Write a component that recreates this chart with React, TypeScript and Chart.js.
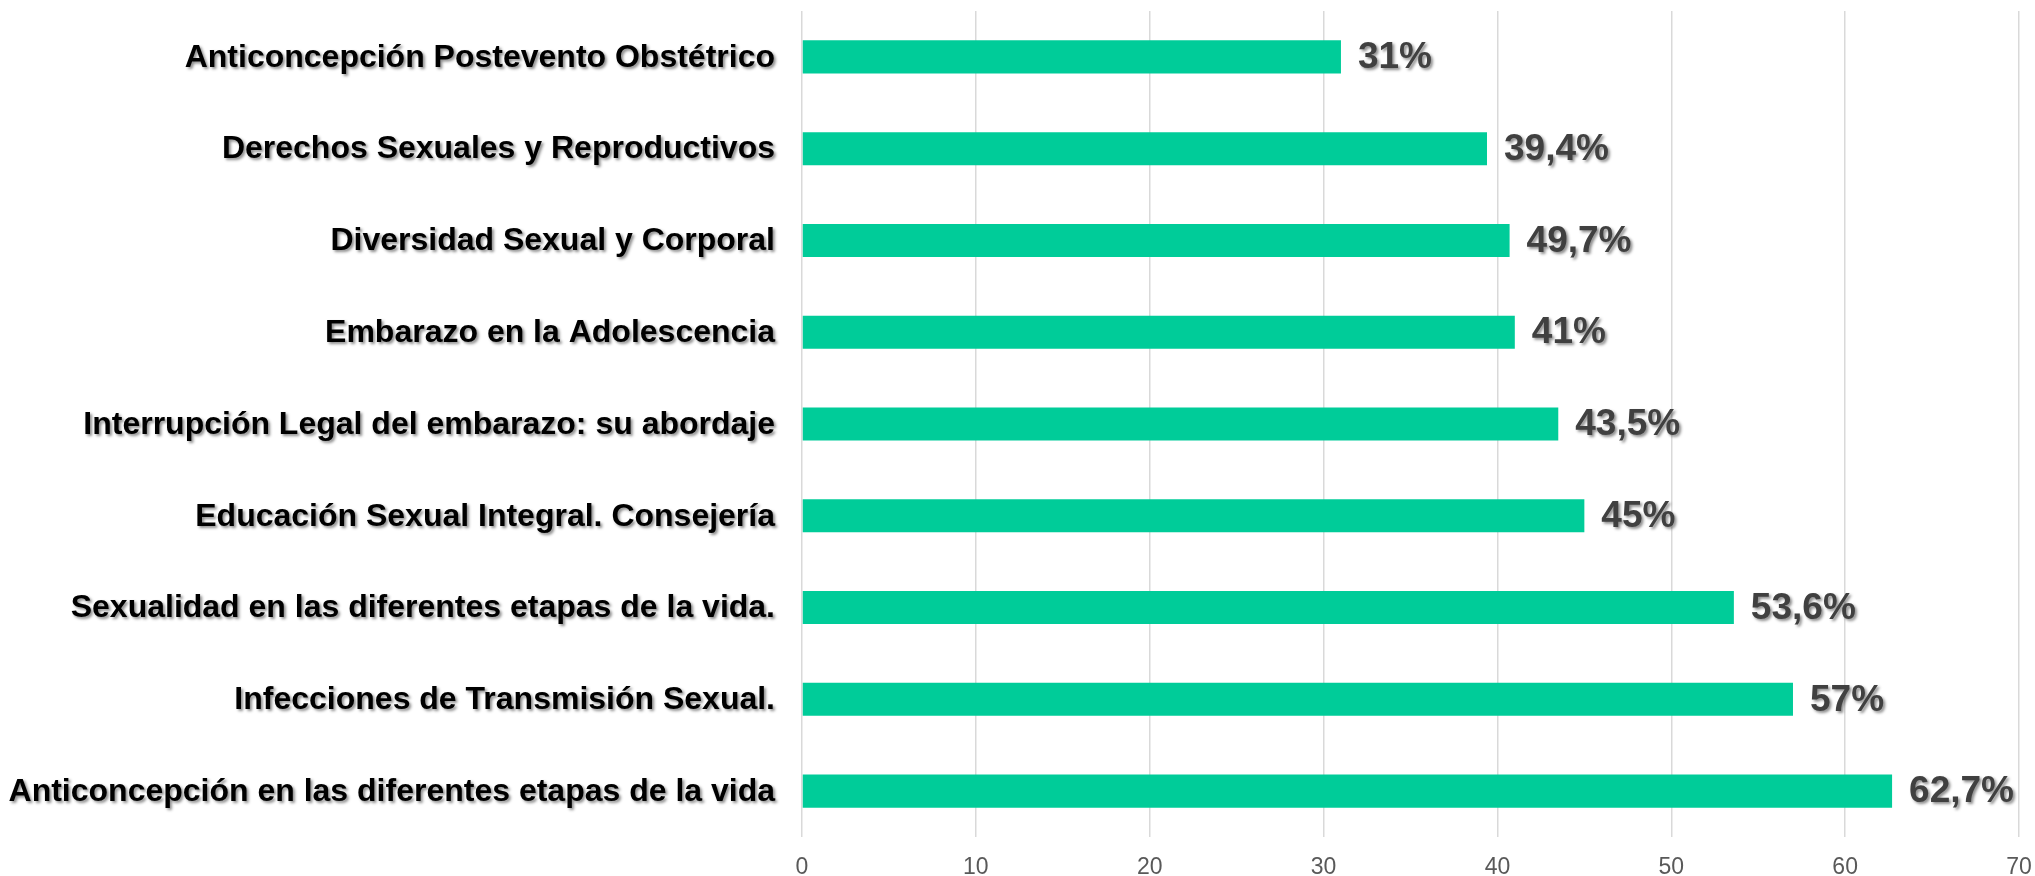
import { useEffect, useRef } from 'react';
import { Chart, registerables } from 'chart.js';

Chart.register(...registerables);

const categories = [
  'Anticoncepción Postevento Obstétrico',
  'Derechos Sexuales y Reproductivos',
  'Diversidad Sexual y Corporal',
  'Embarazo en la Adolescencia',
  'Interrupción Legal del embarazo: su abordaje',
  'Educación Sexual Integral. Consejería',
  'Sexualidad en las diferentes etapas de la vida.',
  'Infecciones de Transmisión Sexual.',
  'Anticoncepción en las diferentes etapas de la vida',
];

// bar lengths as drawn in the picture
const values = [31, 39.4, 40.7, 41, 43.5, 45, 53.6, 57, 62.7];

// label texts as printed in the picture
const valueLabels = ['31%', '39,4%', '49,7%', '41%', '43,5%', '45%', '53,6%', '57%', '62,7%'];

const xMin = 0;
const xMax = 70;
const xStep = 10;

const FONT = '"Liberation Sans", Arial, Helvetica, sans-serif';

const labelPlugin = {
  id: 'shadowLabels',
  afterDatasetsDraw(chart: any) {
    const ctx = chart.ctx;
    const yScale = chart.scales.y;
    const meta = chart.getDatasetMeta(0);
    ctx.save();
    ctx.shadowColor = 'rgba(0,0,0,0.45)';
    ctx.shadowOffsetX = 2;
    ctx.shadowOffsetY = 2;
    ctx.shadowBlur = 3;
    ctx.textBaseline = 'middle';

    ctx.font = `bold 32px ${FONT}`;
    ctx.fillStyle = '#000000';
    ctx.textAlign = 'right';
    categories.forEach((c, i) => {
      ctx.fillText(c, yScale.right - 27, yScale.getPixelForValue(i) + 1);
    });

    ctx.font = `bold 37px ${FONT}`;
    ctx.fillStyle = '#404040';
    ctx.textAlign = 'left';
    meta.data.forEach((bar: any, i: number) => {
      ctx.fillText(valueLabels[i], bar.x + 17, bar.y + 1);
    });
    ctx.restore();
  },
};

export default function App() {
  const canvasRef = useRef<HTMLCanvasElement | null>(null);

  useEffect(() => {
    if (!canvasRef.current) return;
    const chart = new Chart(canvasRef.current, {
      type: 'bar',
      data: {
        labels: categories,
        datasets: [
          {
            data: values,
            backgroundColor: '#00CC99',
            borderWidth: 0,
            barPercentage: 0.36,
            categoryPercentage: 1,
          },
        ],
      },
      options: {
        indexAxis: 'y',
        animation: false,
        responsive: true,
        maintainAspectRatio: false,
        layout: { padding: { top: 11, right: 0, bottom: 0, left: 0 } },
        plugins: {
          legend: { display: false },
          tooltip: { enabled: false },
        },
        scales: {
          x: {
            type: 'linear',
            position: 'bottom',
            min: xMin,
            max: xMax,
            ticks: {
              stepSize: xStep,
              color: '#595959',
              font: { family: FONT, size: 23 },
              padding: 17,
            },
            grid: { color: '#d9d9d9', lineWidth: 1.5, drawTicks: false },
            border: { display: false },
            afterFit: (scale: any) => {
              scale.height = 39;
              scale.paddingRight = 16;
            },
          },
          y: {
            type: 'category',
            grid: { display: false, drawTicks: false },
            border: { display: false },
            ticks: { color: 'rgba(0,0,0,0)', font: { size: 10 } },
            afterFit: (scale: any) => {
              scale.width = 802;
            },
          },
        },
      },
      plugins: [labelPlugin],
    });
    return () => chart.destroy();
  }, []);

  return (
    <div style={{ position: 'fixed', left: 0, top: 0, width: 2035, height: 876, background: '#ffffff' }}>
      <canvas ref={canvasRef} />
    </div>
  );
}
